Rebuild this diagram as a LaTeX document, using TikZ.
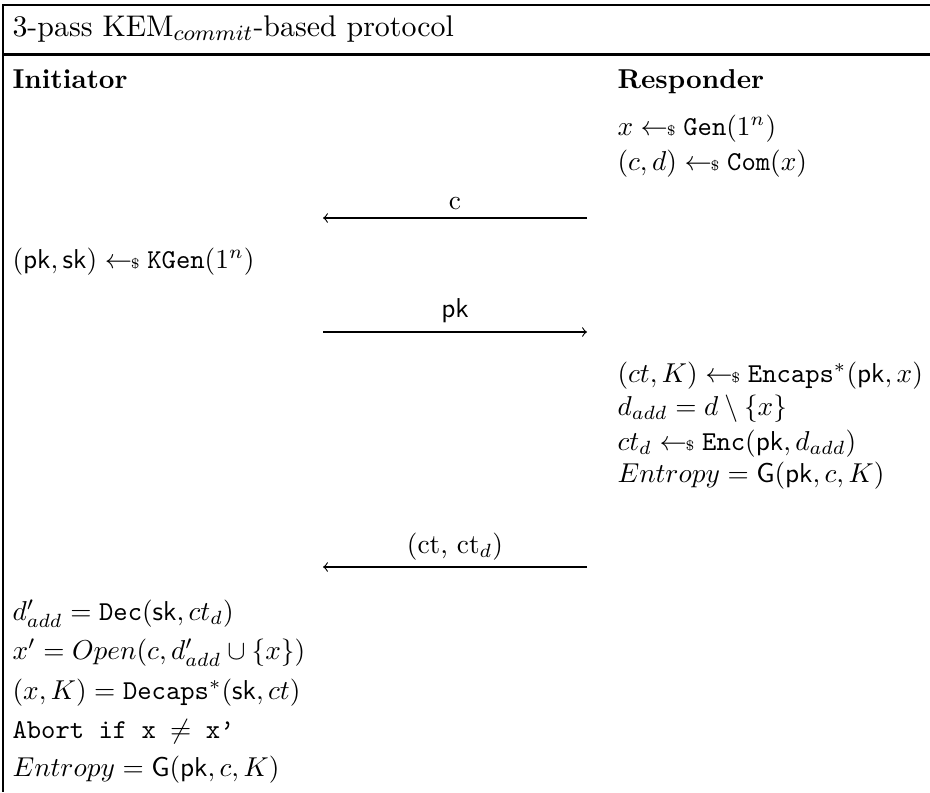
\documentclass[tikz,border=0pt]{standalone}
\usepackage{amsmath,amssymb}
\newcommand{\smp}{\mathrel{\leftarrow\!\!{\scriptscriptstyle\$}}}
\begin{document}
\begin{tikzpicture}[x=0.3663pt,y=-0.3663pt,
  lt/.style={anchor=base west, inner sep=0pt},
  lbl/.style={anchor=base, inner sep=0pt},
  msg/.style={line width=0.4pt},
  framel/.style={line width=1pt}]
\useasboundingbox (0,0) rectangle (930,792);
% frame
\coordinate (tl) at (3,5);
\coordinate (tr) at (930,5);
\coordinate (bl) at (3,792);
\coordinate (rl) at (3,54.5);
\coordinate (rr) at (930,54.5);
\draw[framel] (tr) -- (tl) -- (bl);
\draw[framel] (rl) -- (rr);
% title and parties
\node[lt, font=\fontsize{10.95}{13}\selectfont] (title) at (12,36) {3-pass KEM$_{commit}$-based protocol};
\node[lt] (ini) at (12,88) {\textbf{Initiator}};
\node[lt] (res) at (617,88) {\textbf{Responder}};
% responder steps
\node[lt] (r1) at (617,135) {$x \smp \mathtt{Gen}(1^n)$};
\node[lt] (r2) at (617,170) {$(c,d) \smp \mathtt{Com}(x)$};
\node[lt] (r3) at (617,382) {$(ct,K) \smp \mathtt{Encaps}^*(\mathsf{pk},x)$};
\node[lt] (r4) at (617,415) {$d_{add} = d \setminus \{x\}$};
\node[lt] (r5) at (617,450) {$ct_d \smp \mathtt{Enc}(\mathsf{pk},d_{add})$};
\node[lt] (r6) at (617,482) {$Entropy = \mathsf{G}(\mathsf{pk},c,K)$};
% initiator steps
\node[lt] (i1) at (12,268) {$(\mathsf{pk},\mathsf{sk}) \smp \mathtt{KGen}(1^n)$};
\node[lt] (i2) at (12,620) {$d'_{add} = \mathtt{Dec}(\mathsf{sk},ct_d)$};
\node[lt] (i3) at (12,659) {$x' = Open(c,d'_{add}\cup\{x\})$};
\node[lt] (i4) at (12,699) {$(x,K) = \mathtt{Decaps}^*(\mathsf{sk},ct)$};
\node[lt] (i5) at (12,738) {\texttt{Abort if x $\neq$ x\textquoteright}};
\node[lt] (i6) at (12,776) {$Entropy = \mathsf{G}(\mathsf{pk},c,K)$};
% messages
\coordinate (m1L) at (323,218); \coordinate (m1R) at (587,218);
\coordinate (m2L) at (323,332); \coordinate (m2R) at (587,332);
\coordinate (m3L) at (323,567); \coordinate (m3R) at (587,567);
\draw[msg,->] (m1R) -- (m1L);
\draw[msg,->] (m2L) -- (m2R);
\draw[msg,->] (m3R) -- (m3L);
\node[lbl] (l1) at (455,209) {c};
\node[lbl] (l2) at (455,317) {$\mathsf{pk}$};
\node[lbl] (l3) at (455,553) {(ct, ct$_d$)};
\end{tikzpicture}
\end{document}
